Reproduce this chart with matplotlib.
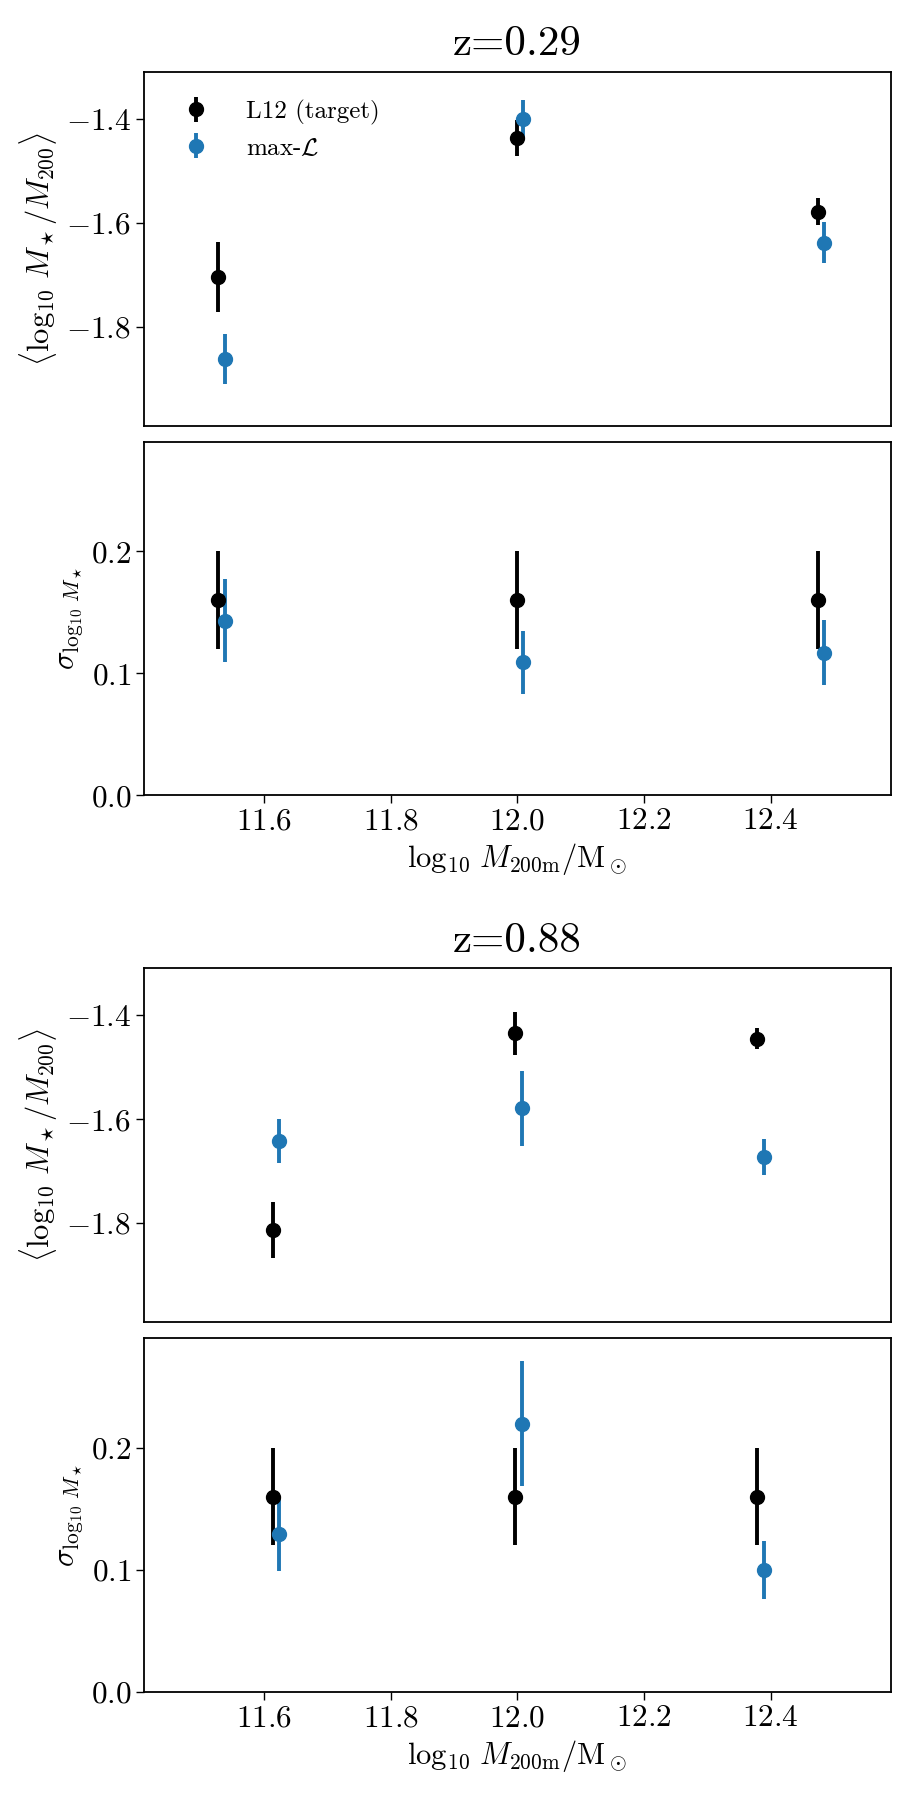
import matplotlib

matplotlib.use("Agg")
import matplotlib.pyplot as plt

plt.rcParams["font.family"] = "serif"
plt.rcParams["font.serif"] = ["cmr10", "DejaVu Serif"]
plt.rcParams["mathtext.fontset"] = "cm"
plt.rcParams["axes.formatter.use_mathtext"] = True
plt.rcParams["axes.unicode_minus"] = True

# z = 0.29
z1_x_target = [11.527, 12.0, 12.474]
z1_x_fit = [11.538, 12.009, 12.484]
z1_mean_target = [-1.704, -1.437, -1.579]
z1_mean_target_err = [0.067, 0.034, 0.026]
z1_mean_fit = [-1.861, -1.400, -1.638]
z1_mean_fit_err = [0.048, 0.036, 0.039]
z1_sig_target = [0.16, 0.16, 0.16]
z1_sig_target_err = [0.04, 0.04, 0.04]
z1_sig_fit = [0.143, 0.109, 0.117]
z1_sig_fit_err = [0.034, 0.026, 0.027]

# z = 0.88
z2_x_target = [11.614, 11.997, 12.379]
z2_x_fit = [11.624, 12.007, 12.389]
z2_mean_target = [-1.813, -1.435, -1.445]
z2_mean_target_err = [0.054, 0.042, 0.020]
z2_mean_fit = [-1.642, -1.579, -1.673]
z2_mean_fit_err = [0.043, 0.072, 0.034]
z2_sig_target = [0.16, 0.16, 0.16]
z2_sig_target_err = [0.04, 0.04, 0.04]
z2_sig_fit = [0.129, 0.220, 0.100]
z2_sig_fit_err = [0.030, 0.051, 0.024]

titles = ["z=0.29", "z=0.88"]

BLUE = "#1f77b4"
X_LIM = (11.41, 12.59)
MEAN_LIM = (-1.99, -1.31)
SIG_LIM = (0.0, 0.29)

fig = plt.figure(figsize=(9, 18), dpi=100)

rects = [
    (0.1597, 0.7635, 0.8303, 0.1965),
    (0.1597, 0.5583, 0.8303, 0.1963),
    (0.1597, 0.2657, 0.8303, 0.1963),
    (0.1597, 0.0602, 0.8303, 0.1963),
]

groups = [
    (z1_x_target, z1_x_fit, z1_mean_target, z1_mean_target_err, z1_mean_fit,
     z1_mean_fit_err, z1_sig_target, z1_sig_target_err, z1_sig_fit, z1_sig_fit_err),
    (z2_x_target, z2_x_fit, z2_mean_target, z2_mean_target_err, z2_mean_fit,
     z2_mean_fit_err, z2_sig_target, z2_sig_target_err, z2_sig_fit, z2_sig_fit_err),
]

ebkw = dict(fmt="o", ms=10, elinewidth=2.8, capsize=0)

for i, g in enumerate(groups):
    xt, xf, mt, mte, mf, mfe, st, ste, sf, sfe = g
    ax1 = fig.add_axes(rects[2 * i])
    ax2 = fig.add_axes(rects[2 * i + 1])

    ax1.errorbar(xt, mt, yerr=mte, color="black", label="L12 (target)", **ebkw)
    ax1.errorbar(xf, mf, yerr=mfe, color=BLUE, label=r"max-$\mathcal{L}$", **ebkw)
    ax2.errorbar(xt, st, yerr=ste, color="black", **ebkw)
    ax2.errorbar(xf, sf, yerr=sfe, color=BLUE, **ebkw)

    ax1.set_xlim(*X_LIM)
    ax2.set_xlim(*X_LIM)
    ax1.set_ylim(*MEAN_LIM)
    ax2.set_ylim(*SIG_LIM)
    ax1.set_xticks([])
    ax1.set_yticks([-1.8, -1.6, -1.4])
    ax2.set_yticks([0.0, 0.1, 0.2])
    ax2.set_xticks([11.6, 11.8, 12.0, 12.2, 12.4])

    for ax in (ax1, ax2):
        ax.tick_params(labelsize=22.5, length=5.5, width=1.0)
        for s in ax.spines.values():
            s.set_linewidth(1.3)

    ax1.set_title(titles[i], fontsize=31, pad=12)
    ax1.set_ylabel(r"$\langle\log_{10}\,M_\star/M_{200}\rangle$", fontsize=22)
    ax2.set_ylabel(r"$\sigma_{\log_{10}\,M_\star}$", fontsize=22)
    ax2.set_xlabel(r"$\log_{10}\,M_{\mathrm{200m}}/\mathrm{M}_\odot$", fontsize=22)

    if i == 0:
        ax1.legend(loc="upper left", frameon=False, fontsize=18,
                   handletextpad=1.0, labelspacing=0.5, borderaxespad=0.7)

fig.savefig("out.png", dpi=100)
